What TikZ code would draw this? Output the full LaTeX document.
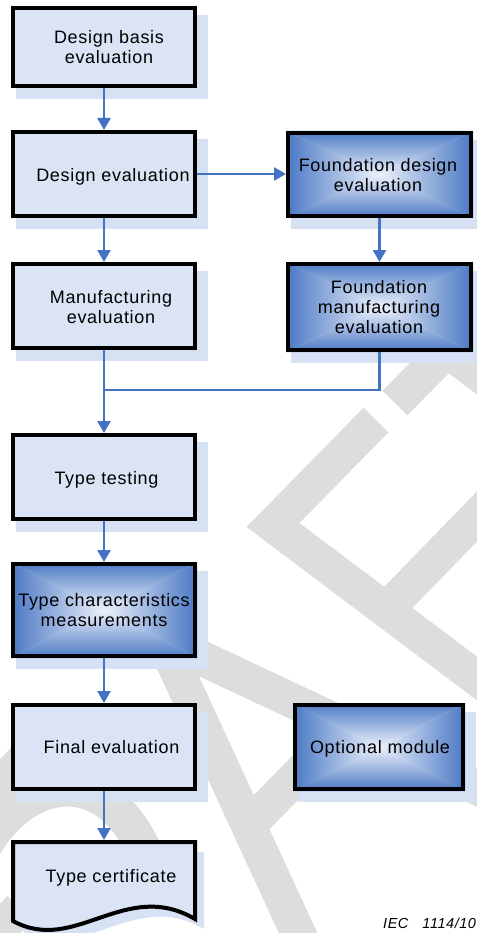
\documentclass[tikz,border=0pt]{standalone}
\usepackage{fontspec}
\setmainfont{Liberation Sans}[LetterSpace=3.8]
\usetikzlibrary{arrows.meta}
\pgfdeclarelayer{wm}
\pgfdeclarelayer{bg}
\pgfsetlayers{wm,bg,main}
\definecolor{boxfill}{RGB}{218,228,244}
\definecolor{shadowfill}{RGB}{214,225,243}
\definecolor{bedge}{RGB}{74,120,196}
\definecolor{bmid}{RGB}{146,176,226}
\definecolor{bcenter}{RGB}{236,241,251}
\definecolor{arrowc}{RGB}{68,114,196}
\definecolor{wmgray}{RGB}{221,221,221}
\newcommand\blueshade[1]{%
  \shade[top color=bedge,middle color=bmid,bottom color=bcenter] (#1.north west) -- (#1.north east) -- (#1.center) -- cycle;
  \shade[top color=bcenter,middle color=bmid,bottom color=bedge] (#1.south west) -- (#1.south east) -- (#1.center) -- cycle;
  \shade[left color=bedge,middle color=bmid,right color=bcenter] (#1.north west) -- (#1.south west) -- (#1.center) -- cycle;
  \shade[left color=bcenter,middle color=bmid,right color=bedge] (#1.north east) -- (#1.south east) -- (#1.center) -- cycle;}
\begin{document}
\begin{tikzpicture}[x=1pt,y=-1pt,
  box/.style={draw=black, line width=4pt, minimum width=182pt, minimum height=84pt, inner sep=0pt},
  lbl/.style={font=\fontsize{18}{20}\selectfont, align=center, inner sep=0pt},
  flow/.style={draw=arrowc, line width=2.5pt, -{Triangle[width=13pt,length=12pt]}},
  link/.style={draw=arrowc, line width=2.5pt},
  wmark/.style={draw=wmgray, line width=35pt, line cap=butt, line join=miter}]
\useasboundingbox (0,0) rectangle (476,933);

% boxes
\node[box, minimum height=78pt] (b1) at (104,47) {};
\node[box] (b2) at (104,174) {};
\node[box] (b3) at (104,306) {};
\node[box] (b4) at (104,477) {};
\node[box, minimum height=92pt] (b5) at (104,610) {};
\node[box] (b6) at (104,747) {};
\node[minimum width=186pt, minimum height=92pt, inner sep=0pt, outer sep=0pt] (b7) at (104,886) {};
\node[box, minimum width=183pt, minimum height=83pt] (f1) at (379.5,174.5) {};
\node[box, minimum width=183pt, minimum height=86pt] (f2) at (379.5,307) {};
\node[box, minimum width=168pt] (opt) at (379,747) {};
\draw[line width=4pt, line join=miter] (13,842) -- (195,842) -- (195,919) .. controls (125,878) and (75,955) .. (13,921) -- cycle;

% labels
\node[lbl] (t1) at (109,47) {Design basis\\evaluation};
\node[lbl] (t2) at (113,177) {Design evaluation};
\node[lbl] (t3) at (111,307) {Manufacturing\\evaluation};
\node[lbl] (t4) at (106.5,480) {Type testing};
\node[lbl] (t5) at (104,610) {Type characteristics\\measurements};
\node[lbl] (t6) at (111.5,747) {Final evaluation};
\node[lbl] (t7) at (111,878) {Type certificate};
\node[lbl] (tf1) at (378,175) {Foundation design\\evaluation};
\node[lbl] (tf2) at (379,307) {Foundation\\manufacturing\\evaluation};
\node[lbl] (to) at (380,749) {Optional module};
\node[anchor=base west, inner sep=0pt, font=\fontsize{14.5}{16}\selectfont\itshape] (iec) at (383,928) {IEC\hspace{14pt}1114/10};

% connectors
\coordinate (j) at (104,390);
\draw[flow] (b1.south) -- (b2.north);
\draw[flow] (b2.east) -- (b2.east -| f1.west);
\draw[flow] (b2.south) -- (b3.north);
\draw[flow] (f1.south) -- (f2.north);
\draw[flow] (b3.south) -- (b4.north);
\draw[link] (f2.south) |- (j);
\draw[flow] (b4.south) -- (b5.north);
\draw[flow] (b5.south) -- (b6.north);
\draw[flow] (b6.south) -- (b7.north);

% shadows and fills
\begin{pgfonlayer}{bg}
  \foreach \n in {b1,b2,b3,b4,b5,b6,f1,f2,opt}
    \fill[shadowfill] ([shift={(5,9)}]\n.north west) rectangle ([shift={(11,11)}]\n.south east);
  \fill[shadowfill] (22,852) -- (204,852) -- (204,929) .. controls (134,888) and (84,965) .. (22,931) -- cycle;
  \foreach \n in {b1,b2,b3,b4,b6}
    \fill[boxfill] (\n.north west) rectangle (\n.south east);
  \fill[boxfill] (13,842) -- (195,842) -- (195,919) .. controls (125,878) and (75,955) .. (13,921) -- cycle;
  \blueshade{b5}
  \blueshade{f1}
  \blueshade{f2}
  \blueshade{opt}
\end{pgfonlayer}

% watermark
\begin{pgfonlayer}{wm}
  \draw[wmark] (376,420) -- (273,525) -- (495,692);
  \draw[wmark] (386,610) -- (495,498);
  \draw[wmark] (395,403) -- (500,296);
  \draw[wmark] (447,350) -- (500,390);
  \draw[wmark, line join=bevel] (305,948) -- (163,640) -- (495,796);
  \draw[wmark] (250,824) -- (352,720);
  \draw[wmark] (-15,845) .. controls (30,770) and (120,760) .. (155,880);
  \draw[wmark] (-20,805) -- (45,738);
  \draw[wmark] (-20,950) -- (20,908);
\end{pgfonlayer}
\end{tikzpicture}
\end{document}
